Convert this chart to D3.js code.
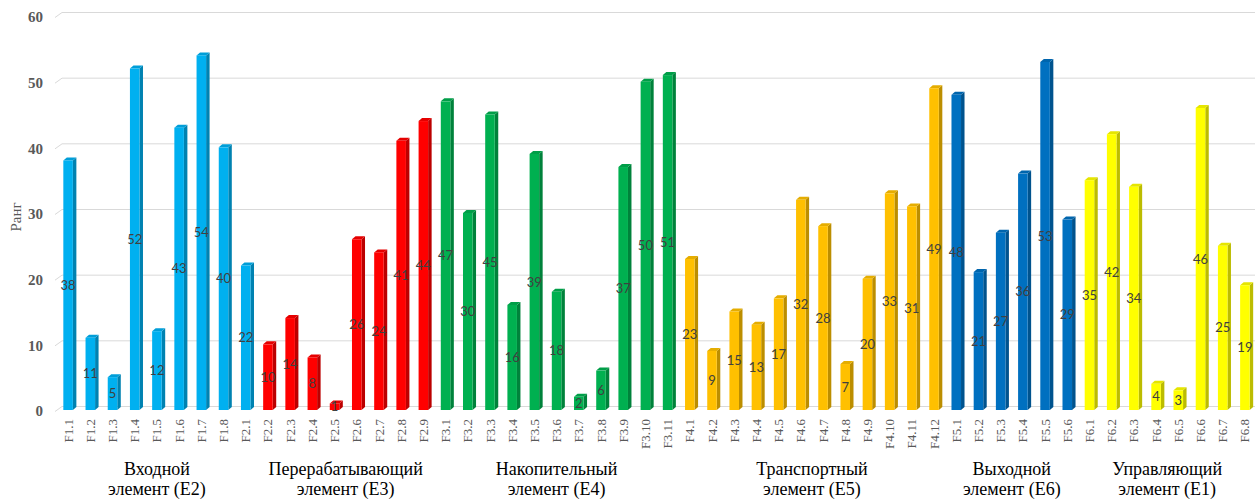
<!DOCTYPE html>
<html>
<head>
<meta charset="utf-8">
<script src="https://cdn.jsdelivr.net/npm/d3@7"></script>
<style>
  html, body { margin: 0; padding: 0; background: #fff; }
  svg { display: block; }
</style>
</head>
<body>
<svg id="chart" width="1255" height="499"></svg>
<script>
// Factor codes along the x axis
const categories = [
  "F1.1","F1.2","F1.3","F1.4","F1.5","F1.6","F1.7","F1.8","F2.1",
  "F2.2","F2.3","F2.4","F2.5","F2.6","F2.7","F2.8","F2.9",
  "F3.1","F3.2","F3.3","F3.4","F3.5","F3.6","F3.7","F3.8","F3.9","F3.10","F3.11",
  "F4.1","F4.2","F4.3","F4.4","F4.5","F4.6","F4.7","F4.8","F4.9","F4.10","F4.11","F4.12",
  "F5.1","F5.2","F5.3","F5.4","F5.5","F5.6",
  "F6.1","F6.2","F6.3","F6.4","F6.5","F6.6","F6.7","F6.8"
];

// Rank of each factor
const ranks = [
  38, 11, 5, 52, 12, 43, 54, 40, 22,
  10, 14, 8, 1, 26, 24, 41, 44,
  47, 30, 45, 16, 39, 18, 2, 6, 37, 50, 51,
  23, 9, 15, 13, 17, 32, 28, 7, 20, 33, 31, 49,
  48, 21, 27, 36, 53, 29,
  35, 42, 34, 4, 3, 46, 25, 19
];

// System elements: caption lines and number of factors in each
const groupNames = [
  ["Входной", "элемент (E2)"],
  ["Перерабатывающий", "элемент (E3)"],
  ["Накопительный", "элемент (E4)"],
  ["Транспортный", "элемент (E5)"],
  ["Выходной", "элемент (E6)"],
  ["Управляющий", "элемент (E1)"]
];
const groupSizes = [9, 8, 11, 12, 6, 8];
const groupColors = ["#00B0F0", "#FF0000", "#00B050", "#FFC000", "#0070C0", "#FFFF00"];

const yTicks = [0, 10, 20, 30, 40, 50, 60];
const yTitle = "Ранг";

// ---------------------------------------------------------------
const svg = d3.select("#chart");
const W = 1255;

// group index for every category
const groupOf = [];
groupSizes.forEach((n, g) => { for (let i = 0; i < n; i++) groupOf.push(g); });
const data = categories.map((c, i) => ({ cat: c, value: ranks[i], group: groupOf[i] }));

const x = d3.scaleBand()
  .domain(categories)
  .range([57, 1256])
  .paddingInner(0.57)
  .paddingOuter(0.285);
const bw = x.bandwidth();

const y = d3.scaleLinear().domain([0, 60]).range([410, 16]);

// 3-D depth of the columns and the back wall
const dX = 3.5, dY = 3;
const wallShift = 3.5, sideX0 = 55, sideX1 = 62;

// Gridlines on the back wall, with the short side-wall segment on the left
svg.append("g")
  .selectAll("polyline")
  .data(yTicks)
  .join("polyline")
  .attr("points", d => {
    const g = y(d) - wallShift;
    return `${sideX0},${g + 5} ${sideX1},${g} ${W},${g}`;
  })
  .attr("fill", "none")
  .attr("stroke", "#d9d9d9")
  .attr("stroke-width", 1);

// Y tick labels
svg.append("g")
  .selectAll("text")
  .data(yTicks)
  .join("text")
  .attr("x", 43)
  .attr("y", d => y(d) + 1)
  .attr("dy", "0.35em")
  .attr("text-anchor", "end")
  .attr("font-family", "'Liberation Serif', 'Times New Roman', serif")
  .attr("font-weight", "bold")
  .attr("font-size", 15)
  .attr("fill", "#595959")
  .text(d => d);

// Y axis title
svg.append("text")
  .attr("transform", "translate(21,217) rotate(-90)")
  .attr("text-anchor", "middle")
  .attr("font-family", "'Liberation Serif', 'Times New Roman', serif")
  .attr("font-size", 15)
  .attr("fill", "#595959")
  .text(yTitle);

// Columns
const bars = svg.append("g")
  .selectAll("g")
  .data(data)
  .join("g");

bars.append("polygon") // right side face
  .attr("points", d => {
    const x0 = x(d.cat) + bw, yt = y(d.value), yb = y(0);
    return `${x0},${yt} ${x0 + dX},${yt - dY} ${x0 + dX},${yb - dY} ${x0},${yb}`;
  })
  .attr("fill", d => d3.rgb(groupColors[d.group]).darker(0.85));

bars.append("polygon") // top face
  .attr("points", d => {
    const x0 = x(d.cat), yt = y(d.value);
    return `${x0},${yt} ${x0 + dX},${yt - dY} ${x0 + bw + dX},${yt - dY} ${x0 + bw},${yt}`;
  })
  .attr("fill", d => d3.rgb(groupColors[d.group]).darker(0.3));

bars.append("rect") // front face
  .attr("x", d => x(d.cat))
  .attr("y", d => y(d.value))
  .attr("width", bw)
  .attr("height", d => y(0) - y(d.value))
  .attr("fill", d => groupColors[d.group]);

// Value labels at mid-height of each column
svg.append("g")
  .selectAll("text")
  .data(data)
  .join("text")
  .attr("x", d => x(d.cat) + bw / 2)
  .attr("y", d => y(d.value / 2))
  .attr("dy", "0.35em")
  .attr("text-anchor", "middle")
  .attr("font-family", "Lato, 'Open Sans', sans-serif")
  .attr("font-size", 13)
  .attr("fill", "#404040")
  .text(d => d.value);

// Category labels, rotated
svg.append("g")
  .selectAll("text")
  .data(categories)
  .join("text")
  .attr("transform", d => `translate(${x(d) + bw / 2},419) rotate(-90)`)
  .attr("dy", "0.35em")
  .attr("text-anchor", "end")
  .attr("font-family", "'Liberation Serif', 'Times New Roman', serif")
  .attr("font-size", 13)
  .attr("fill", "#595959")
  .text(d => d);

// Element captions centred under their factor groups
let start = 0;
const groupCenters = groupSizes.map(n => {
  const first = categories[start], last = categories[start + n - 1];
  start += n;
  return (x(first) + x(last) + bw) / 2;
});

const caps = svg.append("g")
  .selectAll("text")
  .data(groupNames)
  .join("text")
  .attr("text-anchor", "middle")
  .attr("font-family", "'Liberation Serif', 'Times New Roman', serif")
  .attr("font-size", 18)
  .attr("fill", "#000");

caps.each(function (lines, i) {
  const t = d3.select(this);
  lines.forEach((line, k) => {
    t.append("tspan")
      .attr("x", groupCenters[i])
      .attr("y", 475 + k * 20)
      .text(line);
  });
});
</script>
</body>
</html>
